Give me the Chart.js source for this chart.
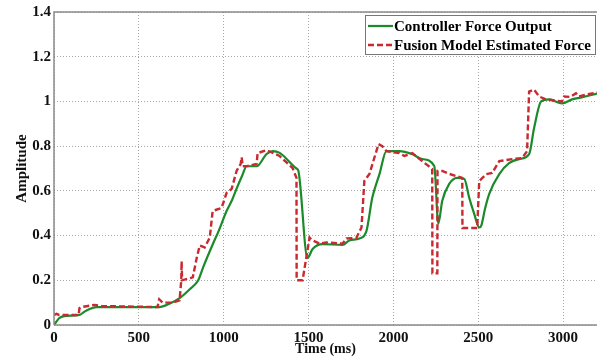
<!DOCTYPE html>
<html>
<head>
<meta charset="utf-8">
<script src="https://cdn.jsdelivr.net/npm/chart.js@4/dist/chart.umd.min.js"></script>
<style>
html,body{margin:0;padding:0;background:#fff;}
#wrap{width:597px;height:360px;position:relative;}
</style>
</head>
<body>
<div id="wrap"><canvas id="c"></canvas></div>
<script>
// ---- data ----
const ctrlTime  = [0,30,60,150,180,210,250,620,680,740,800,850,880,935,970,1017,1050,1076,1110,1135,1194,1253,1290,1330,1429,1440,1494,1524,1582,1700,1741,1800,1841,1876,1918,1959,2035,2112,2170,2241,2265,2288,2329,2376,2418,2447,2476,2506,2518,2540,2565,2624,2682,2741,2800,2829,2871,2918,2994,3053,3120,3200];
const ctrlForce = [0,0.03,0.04,0.045,0.06,0.072,0.08,0.08,0.095,0.12,0.16,0.2,0.26,0.36,0.42,0.51,0.56,0.61,0.67,0.71,0.71,0.765,0.778,0.77,0.70,0.69,0.30,0.34,0.362,0.358,0.378,0.387,0.42,0.57,0.675,0.778,0.778,0.764,0.742,0.711,0.453,0.556,0.631,0.658,0.653,0.569,0.498,0.436,0.444,0.52,0.587,0.675,0.724,0.742,0.764,0.88,1.0,1.009,0.991,1.009,1.02,1.035];

const fusionTime  = [0,15,30,60,145,150,160,200,240,280,610,620,640,700,740,750,752,755,818,841,859,888,918,935,988,1017,1047,1076,1100,1106,1112,1141,1194,1200,1253,1329,1406,1429,1430,1465,1506,1520,1565,1606,1700,1724,1782,1812,1829,1859,1900,1912,1935,1959,2035,2065,2112,2170,2229,2230,2259,2260,2288,2329,2406,2407,2494,2506,2547,2582,2624,2700,2759,2788,2800,2829,2859,2900,2994,3006,3040,3076,3094,3135,3200];
const fusionForce = [0.045,0.05,0.045,0.045,0.045,0.075,0.08,0.085,0.09,0.085,0.08,0.115,0.1,0.1,0.11,0.2,0.285,0.2,0.213,0.3,0.356,0.347,0.391,0.51,0.524,0.591,0.609,0.689,0.72,0.75,0.71,0.711,0.72,0.769,0.782,0.756,0.702,0.658,0.2,0.2,0.391,0.38,0.364,0.369,0.364,0.387,0.39,0.436,0.644,0.676,0.778,0.809,0.8,0.778,0.769,0.756,0.769,0.733,0.698,0.231,0.231,0.689,0.689,0.676,0.658,0.434,0.434,0.644,0.675,0.68,0.733,0.742,0.747,0.778,1.044,1.053,1.022,1.009,1.0,1.022,1.02,1.036,1.022,1.031,1.04];

const seriesLabels = ['Controller Force Output','Fusion Model Estimated Force'];
const xTicks = [0,500,1000,1500,2000,2500,3000];
const yTicks = [0,0.2,0.4,0.6,0.8,1,1.2,1.4];
const xTitle = 'Time (ms)';
const yTitle = 'Amplitude';

// ---- styles ----
const GREEN = '#1b8a2a';
const RED = '#c82a30';
const FONT = "'Liberation Serif','Times New Roman',serif";
const GRID = '#a8a8a8';
const AXIS = '#8a8a8a';

const toPts = (xs, ys) => xs.map((x, i) => ({x, y: ys[i]}));

const frame = {
  id: 'frame',
  afterDatasetsDraw(chart) {
    const {ctx, chartArea: a} = chart;
    ctx.save();
    ctx.strokeStyle = AXIS;
    ctx.lineWidth = 1.5;
    ctx.setLineDash([]);
    ctx.beginPath();
    ctx.moveTo(a.left, a.bottom);
    ctx.lineTo(a.left, a.top);
    ctx.lineTo(a.right, a.top);
    ctx.moveTo(a.left, a.bottom);
    ctx.lineTo(a.right, a.bottom);
    ctx.stroke();
    ctx.restore();
  }
};

const boxLegend = {
  id: 'boxLegend',
  afterDraw(chart) {
    const {ctx, chartArea: a} = chart;
    const ds = chart.data.datasets;
    ctx.save();
    ctx.font = "bold 15px " + FONT;
    const bx = a.right - 232, by = a.top + 3, bw = 230, bh = 39;
    ctx.fillStyle = '#fff';
    ctx.fillRect(bx, by, bw, bh);
    ctx.strokeStyle = '#777';
    ctx.lineWidth = 1;
    ctx.strokeRect(bx + 0.5, by + 0.5, bw, bh);
    ds.forEach((d, i) => {
      const y = by + 11 + i * 19;
      ctx.strokeStyle = d.borderColor;
      ctx.lineWidth = d.borderWidth;
      ctx.setLineDash(d.borderDash || []);
      ctx.beginPath();
      ctx.moveTo(bx + 3, y);
      ctx.lineTo(bx + 28, y);
      ctx.stroke();
      ctx.setLineDash([]);
      ctx.fillStyle = '#000';
      ctx.textBaseline = 'middle';
      ctx.textAlign = 'left';
      ctx.fillText(d.label, bx + 29, y + 1);
    });
    ctx.restore();
  }
};

new Chart(document.getElementById('c'), {
  type: 'line',
  data: {
    datasets: [
      {label: seriesLabels[0], data: toPts(ctrlTime, ctrlForce), borderColor: GREEN, borderWidth: 2.2, pointRadius: 0, tension: 0.2, cubicInterpolationMode: 'monotone', order: 1, fill: false},
      {label: seriesLabels[1], data: toPts(fusionTime, fusionForce), borderColor: RED, borderWidth: 2.4, borderDash: [6, 3], pointRadius: 0, tension: 0, order: 0, fill: false}
    ]
  },
  options: {
    responsive: true,
    maintainAspectRatio: false,
    animation: false,
    events: [],
    layout: {padding: {top: 10, right: 0, left: 0, bottom: 0}},
    plugins: {legend: {display: false}, tooltip: {enabled: false}},
    scales: {
      x: {
        type: 'linear', min: 0, max: 3200,
        afterBuildTicks: s => { s.ticks = xTicks.map(v => ({value: v})); },
        afterFit: s => { s.height = 35; },
        grid: {color: GRID, lineWidth: 1, drawTicks: false},
        border: {display: false, dash: [1, 2]},
        ticks: {color: '#111', padding: 4, maxRotation: 0, font: {family: FONT, size: 15, weight: 'bold'}, callback: v => String(v)},
        title: {display: true, text: xTitle, color: '#111', padding: {top: 0, bottom: 2}, font: {family: FONT, size: 14, weight: 'bold'}}
      },
      y: {
        type: 'linear', min: 0, max: 1.4,
        afterBuildTicks: s => { s.ticks = yTicks.map(v => ({value: v})); },
        afterFit: s => { s.width = 54; },
        grid: {color: GRID, lineWidth: 1, drawTicks: false},
        border: {display: false, dash: [1, 2]},
        ticks: {color: '#111', padding: 3, font: {family: FONT, size: 15, weight: 'bold'}, callback: v => String(v)},
        title: {display: true, text: yTitle, color: '#111', padding: {top: 13, bottom: 0}, font: {family: FONT, size: 15, weight: 'bold'}}
      }
    }
  },
  plugins: [frame, boxLegend]
});
</script>
</body>
</html>
